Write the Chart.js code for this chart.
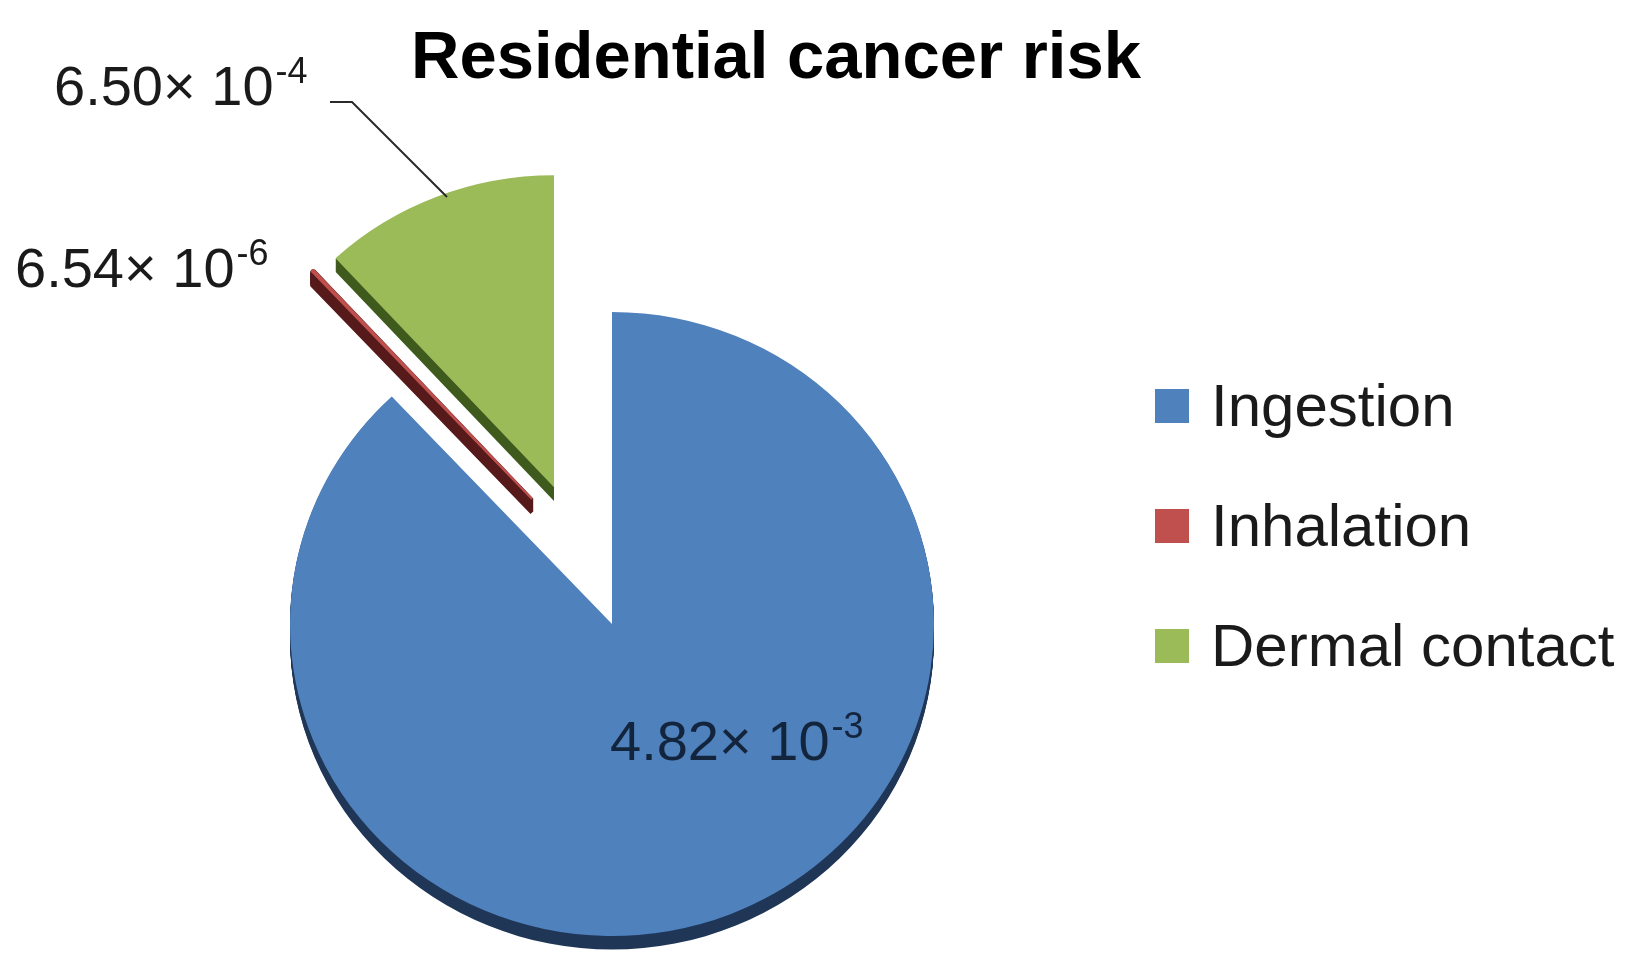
<!DOCTYPE html>
<html>
<head>
<meta charset="utf-8">
<script src="https://cdn.jsdelivr.net/npm/chart.js@4.4.1/dist/chart.umd.min.js"></script>
<style>
  html, body { margin: 0; padding: 0; background: #fff; }
</style>
</head>
<body>
<canvas id="myChart" width="1639" height="972"></canvas>
<script>
// data
const labels = ["Ingestion", "Inhalation", "Dermal contact"];
const risk = [4.82e-3, 6.54e-6, 6.50e-4];
const mantissa = ["4.82", "6.54", "6.50"];
const exponent = ["-3", "-6", "-4"];
const titleText = "Residential cancer risk";

const colors = ["#4F81BD", "#C0504D", "#9BBB59"];
const sideColors = ["#1f3657", "#561a1b", "#3f5a1d"]; // darker faces for the 3d look
const edgeWidth = [0, 2, 0];
const sideEdgeWidth = [0, 4, 0];
// how far each slice is pulled out (px, before the vertical squash)
const explodeShift = [[0, 0], [-80, -129], [-58, -141]];
const depth = 14;
const squash = 0.969; // the pie is seen slightly from above
const FONT = "'Liberation Sans', Arial, sans-serif";

const pie3d = {
  id: "pie3d",
  afterDatasetUpdate(chart, args) {
    args.meta.data.forEach((arc, i) => {
      arc.x += explodeShift[i][0];
      arc.y += explodeShift[i][1];
    });
  },
  beforeDatasetsDraw(chart) {
    const ctx = chart.ctx;
    const meta = chart.getDatasetMeta(0);
    const cy = (chart.chartArea.top + chart.chartArea.bottom) / 2;
    ctx.save();
    ctx.translate(0, cy * (1 - squash));
    ctx.scale(1, squash);
    ctx.lineJoin = "bevel";
    meta.data.forEach((arc, i) => {
      ctx.fillStyle = sideColors[i];
      ctx.strokeStyle = sideColors[i];
      ctx.lineWidth = sideEdgeWidth[i];
      for (let k = 1; k <= depth; k++) {
        ctx.beginPath();
        ctx.moveTo(arc.x, arc.y + k);
        ctx.arc(arc.x, arc.y + k, arc.outerRadius, arc.startAngle, arc.endAngle);
        ctx.closePath();
        ctx.fill();
        if (sideEdgeWidth[i]) ctx.stroke();
      }
    });
    // keep the squash on for the slices themselves
  },
  afterDatasetsDraw(chart) {
    chart.ctx.restore();
  },
};

// value label like 6.50× 10^-4
function drawValue(ctx, i, x, y, color) {
  ctx.fillStyle = color;
  ctx.textAlign = "left";
  ctx.font = "56px " + FONT;
  const main = mantissa[i] + "\u00d7 10";
  ctx.fillText(main, x, y);
  const w = ctx.measureText(main).width;
  ctx.font = "36px " + FONT;
  ctx.fillText(exponent[i], x + w + 2, y - 22);
}

const annotations = {
  id: "annotations",
  afterDraw(chart) {
    const ctx = chart.ctx;
    ctx.save();
    ctx.textBaseline = "alphabetic";

    // title
    ctx.fillStyle = "#000";
    ctx.font = "bold 67px " + FONT;
    ctx.textAlign = "center";
    ctx.fillText(titleText, 776, 78);

    // data labels
    drawValue(ctx, 2, 54, 105, "#1a1a1a");
    drawValue(ctx, 1, 15, 287, "#1a1a1a");
    drawValue(ctx, 0, 610, 760, "#13243d");

    // leader line for dermal contact
    ctx.strokeStyle = "#2a2a2a";
    ctx.lineWidth = 2;
    ctx.beginPath();
    ctx.moveTo(330, 102);
    ctx.lineTo(352, 102);
    ctx.lineTo(447, 197);
    ctx.stroke();

    // legend
    const ds = chart.data.datasets[0];
    chart.data.labels.forEach((lab, i) => {
      const y = 389 + i * 120;
      ctx.fillStyle = ds.backgroundColor[i];
      ctx.fillRect(1155, y, 34, 34);
      ctx.fillStyle = "#1a1a1a";
      ctx.font = "60px " + FONT;
      ctx.textAlign = "left";
      ctx.fillText(lab, 1211, y + 37);
    });
    ctx.restore();
  },
};

const ctx = document.getElementById("myChart").getContext("2d");
new Chart(ctx, {
  type: "pie",
  data: {
    labels: labels,
    datasets: [
      {
        data: risk,
        backgroundColor: colors,
        borderColor: colors,
        borderWidth: edgeWidth,
        clip: false,
      },
    ],
  },
  options: {
    responsive: false,
    devicePixelRatio: 1,
    animation: false,
    radius: 322,
    layout: { padding: { left: 0, right: 415, top: 276, bottom: 0 } },
    plugins: {
      legend: { display: false },
      tooltip: { enabled: false },
      title: { display: false },
    },
  },
  plugins: [pie3d, annotations],
});
</script>
</body>
</html>
